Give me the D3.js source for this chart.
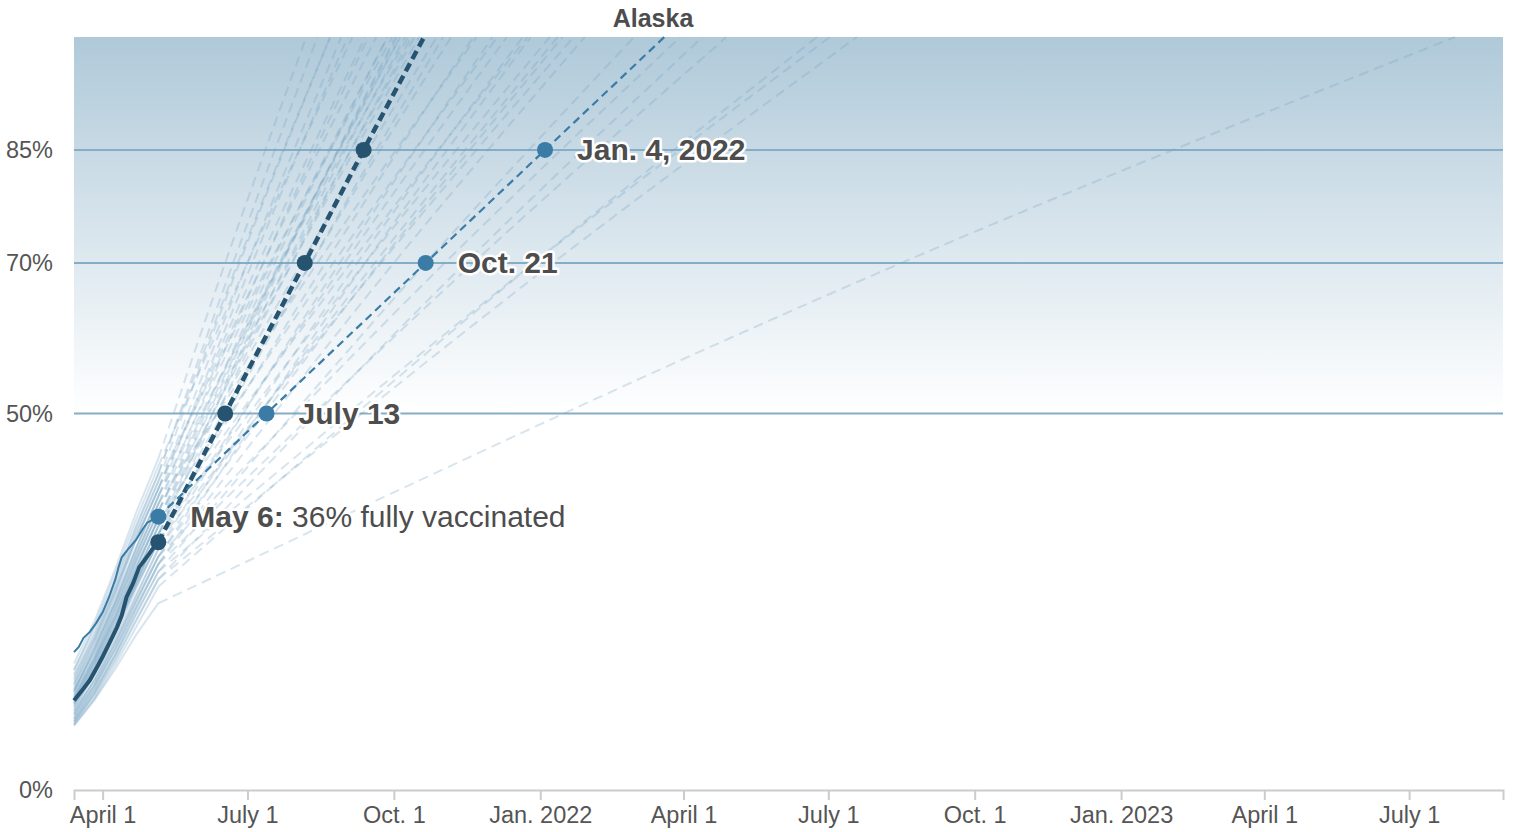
<!DOCTYPE html>
<html>
<head>
<meta charset="utf-8">
<script src="https://cdn.jsdelivr.net/npm/d3@7"></script>
<style>
  body { margin: 0; background: #fff; }
  svg text { font-family: "Liberation Sans", Arial, Helvetica, sans-serif; }
</style>
</head>
<body>
<svg id="chart" width="1515" height="832"></svg>
<script>
// Dates of the history samples for the other states
const histDates = ["2021-03-14", "2021-03-27", "2021-04-09", "2021-04-22", "2021-05-06"];

// Share fully vaccinated (%) for each of the other states on histDates
const stateHist = [
  [16.8, 22.5, 29.4, 36.8, 44], [15.9, 21.6, 28.0, 35.1, 42], [14.2, 20.0, 26.5, 33.9, 41],
  [15.1, 20.3, 26.8, 33.4, 40], [13.0, 18.9, 25.1, 32.2, 39], [16.0, 21.9, 28.8, 35.9, 43],
  [12.4, 17.8, 24.2, 31.0, 38], [13.8, 19.5, 26.0, 33.2, 40], [12.8, 17.6, 23.9, 30.3, 37],
  [14.8, 20.6, 27.1, 34.3, 41], [11.9, 17.0, 23.0, 29.4, 36], [13.5, 18.8, 24.9, 31.4, 38],
  [11.2, 16.1, 22.0, 28.6, 35], [14.0, 19.2, 25.6, 32.1, 39], [10.6, 15.4, 21.3, 27.5, 34],
  [12.0, 17.2, 23.5, 30.4, 37], [12.6, 17.5, 23.3, 29.8, 36], [10.1, 14.8, 20.4, 26.7, 33],
  [11.7, 16.4, 22.3, 28.5, 35], [11.4, 16.0, 21.5, 27.6, 34], [13.1, 18.4, 24.6, 31.2, 38],
  [9.6, 14.0, 19.6, 25.7, 32], [12.2, 17.3, 23.1, 29.6, 36], [10.9, 15.5, 20.9, 27.0, 33],
  [9.2, 13.6, 18.9, 24.8, 31], [12.3, 16.9, 22.6, 28.7, 35], [8.8, 13.0, 18.1, 23.9, 30],
  [11.0, 15.7, 21.2, 27.4, 34], [10.3, 14.6, 20.0, 25.9, 32], [9.9, 14.1, 19.3, 25.1, 31],
  [11.5, 15.9, 21.3, 27.1, 33], [9.5, 13.5, 18.6, 24.2, 30], [9.0, 12.9, 17.8, 23.3, 29],
  [10.5, 14.5, 19.6, 25.2, 31], [8.7, 12.4, 17.1, 22.4, 28], [10.0, 13.9, 18.8, 24.3, 30],
  [8.6, 12.1, 16.6, 21.6, 27], [9.4, 13.2, 18.0, 23.4, 29], [9.1, 12.7, 17.4, 22.6, 28],
  [8.5, 12.0, 16.1, 20.6, 24.8], [15.4, 21.0, 27.6, 34.8, 42], [13.3, 18.6, 25.0, 31.9, 39],
  [13.2, 18.1, 24.2, 30.6, 37], [11.5, 16.6, 22.7, 29.2, 36], [12.0, 16.4, 21.9, 27.8, 34],
  [14.5, 19.9, 26.3, 33.3, 40]
];

// Projected days after May 6 to reach 70% and 100% for the same states
const stateDays70 = [42, 47, 51, 56, 59, 56, 66, 66, 73, 70, 77, 76, 81, 77, 84, 82, 90, 96, 96, 105,
  100, 114, 110, 117, 125, 121, 130, 130, 136, 139, 140, 148, 168, 180, 193, 198, 236, 236, 248, 467,
  50, 71, 77, 84, 78, 63];
const stateDays100 = [93, 100, 108, 115, 119, 122, 132, 137, 144, 147, 150, 152, 155, 157, 159, 161, 175, 179, 184, 198,
  200, 210, 213, 219, 229, 232, 234, 246, 251, 254, 261, 268, 299, 328, 342, 357, 414, 422, 439, 815,
  108, 144, 152, 164, 149, 130];

// U.S. history and projection
const usHistDates = ["2021-03-14", "2021-03-19", "2021-03-24", "2021-03-29", "2021-04-01", "2021-04-05", "2021-04-10",
  "2021-04-13", "2021-04-16", "2021-04-20", "2021-04-24", "2021-04-29", "2021-05-02", "2021-05-06"];
const usHistValues = [11.9, 13.2, 14.6, 16.5, 17.7, 19.4, 21.6, 23.2, 25.6, 27.4, 29.6, 31.0, 31.9, 32.9];
const usProjDates = ["2021-05-06", "2021-06-17", "2021-08-06", "2021-09-12", "2021-10-20"];
const usProjValues = [32.9, 50, 70, 85, 100];

// Alaska history and projection
const akHistDates = ["2021-03-14", "2021-03-17", "2021-03-20", "2021-03-24", "2021-03-28", "2021-04-01", "2021-04-05",
  "2021-04-09", "2021-04-11", "2021-04-13", "2021-04-17", "2021-04-22", "2021-04-26", "2021-04-29", "2021-05-06"];
const akHistValues = [18.3, 19.0, 20.2, 21.0, 22.2, 23.6, 25.6, 28.0, 29.6, 30.9, 32.0, 33.2, 34.6, 35.5, 36.3];
const akProjDates = ["2021-05-06", "2021-07-13", "2021-10-21", "2022-01-04", "2022-03-20"];
const akProjValues = [36.3, 50, 70, 85, 100];
const akLabels = ["", "July 13", "Oct. 21", "Jan. 4, 2022"];

// Axis
const xTicks = ["2021-04-01", "2021-07-01", "2021-10-01", "2022-01-01", "2022-04-01", "2022-07-01",
  "2022-10-01", "2023-01-01", "2023-04-01", "2023-07-01"];
const yTicks = [0, 50, 70, 85];
const refLines = [50, 70, 85];

const parse = d3.utcParse("%Y-%m-%d");
const may6 = parse("2021-05-06");

const svg = d3.select("#chart");

const x = d3.scaleUtc()
  .domain([parse("2021-03-14"), parse("2023-08-29")])
  .range([74, 1503]);
const y = d3.scaleLinear().domain([0, 100]).range([790, 37]);

// Background gradient
const defs = svg.append("defs");
const grad = defs.append("linearGradient")
  .attr("id", "bg")
  .attr("gradientUnits", "userSpaceOnUse")
  .attr("x1", 0).attr("x2", 0)
  .attr("y1", y(100)).attr("y2", y(50));
grad.append("stop").attr("offset", 0).attr("stop-color", "#afc9d9");
grad.append("stop").attr("offset", 1).attr("stop-color", "#ffffff");

svg.append("rect")
  .attr("x", x.range()[0]).attr("y", y(100))
  .attr("width", x.range()[1] - x.range()[0])
  .attr("height", y(0) - y(100))
  .attr("fill", "url(#bg)");

// Reference lines
svg.append("g").selectAll("line")
  .data(refLines)
  .join("line")
  .attr("x1", x.range()[0]).attr("x2", x.range()[1])
  .attr("y1", d => y(d)).attr("y2", d => y(d))
  .attr("stroke", "#86adc6")
  .attr("stroke-width", 2);

const line = d3.line().x(d => x(d[0])).y(d => y(d[1]));
const curve = d3.line().x(d => x(d[0])).y(d => y(d[1])).curve(d3.curveMonotoneX);

// Other states: history
const faint = svg.append("g")
  .attr("fill", "none")
  .attr("stroke", "#6e9fc0")
  .attr("stroke-opacity", 0.27)
  .attr("stroke-width", 2);

faint.selectAll("path.hist")
  .data(stateHist)
  .join("path")
  .attr("class", "hist")
  .attr("d", vals => line(vals.map((v, i) => [parse(histDates[i]), v])));

// Other states: projections
faint.selectAll("path.proj")
  .data(stateHist.map((vals, i) => [
    [may6, vals[vals.length - 1]],
    [d3.utcDay.offset(may6, stateDays70[i]), 70],
    [d3.utcDay.offset(may6, stateDays100[i]), 100]
  ]))
  .join("path")
  .attr("class", "proj")
  .attr("stroke-dasharray", "10,6")
  .attr("d", curve);

// U.S.
const usHist = usHistDates.map((d, i) => [parse(d), usHistValues[i]]);
const usProj = usProjDates.map((d, i) => [parse(d), usProjValues[i]]);
svg.append("path")
  .attr("d", line(usHist))
  .attr("fill", "none")
  .attr("stroke", "#255370")
  .attr("stroke-width", 4);
svg.append("path")
  .attr("d", line(usProj))
  .attr("fill", "none")
  .attr("stroke", "#255370")
  .attr("stroke-width", 4.5)
  .attr("stroke-dasharray", "9,5");

// Alaska
const akHist = akHistDates.map((d, i) => [parse(d), akHistValues[i]]);
const akProj = akProjDates.map((d, i) => [parse(d), akProjValues[i]]);
svg.append("path")
  .attr("d", line(akHist))
  .attr("fill", "none")
  .attr("stroke", "#3a7ca6")
  .attr("stroke-width", 2);
svg.append("path")
  .attr("d", line(akProj))
  .attr("fill", "none")
  .attr("stroke", "#3a7ca6")
  .attr("stroke-width", 2.2)
  .attr("stroke-dasharray", "8,5");

// Dots (milestones, not the 100% end)
svg.append("g").selectAll("circle")
  .data(usProj.slice(0, 4))
  .join("circle")
  .attr("cx", d => x(d[0])).attr("cy", d => y(d[1]))
  .attr("r", 8)
  .attr("fill", "#255370");
svg.append("g").selectAll("circle")
  .data(akProj.slice(0, 4))
  .join("circle")
  .attr("cx", d => x(d[0])).attr("cy", d => y(d[1]))
  .attr("r", 8)
  .attr("fill", "#3a7ca6");

// Labels
const labels = svg.append("g")
  .attr("font-size", 30)
  .attr("fill", "#4d4d4d")
  .attr("stroke", "#fff")
  .attr("stroke-width", 5)
  .attr("stroke-linejoin", "round")
  .attr("paint-order", "stroke");

labels.selectAll("text.ms")
  .data(akProj.slice(1, 4).map((d, i) => ({ p: d, t: akLabels[i + 1] })))
  .join("text")
  .attr("class", "ms")
  .attr("x", d => x(d.p[0]) + 32)
  .attr("y", d => y(d.p[1]))
  .attr("dy", "0.35em")
  .attr("font-weight", "bold")
  .text(d => d.t);

const first = labels.append("text")
  .attr("x", x(akProj[0][0]) + 32)
  .attr("y", y(akProj[0][1]))
  .attr("dy", "0.35em");
first.append("tspan").attr("font-weight", "bold").text("May 6:");
first.append("tspan").text(" " + Math.round(akProj[0][1]) + "% fully vaccinated");

// Title
svg.append("text")
  .attr("x", 653).attr("y", 27)
  .attr("text-anchor", "middle")
  .attr("font-size", 25)
  .attr("font-weight", "bold")
  .attr("fill", "#4d4d4d")
  .text("Alaska");

// X axis
const fmt = d => {
  const m = d.getUTCMonth();
  if (m === 0) return "Jan. " + d.getUTCFullYear();
  if (m === 3) return "April 1";
  if (m === 6) return "July 1";
  return "Oct. 1";
};
const xAxis = svg.append("g")
  .attr("transform", `translate(0,${y(0)})`)
  .call(d3.axisBottom(x).tickValues(xTicks.map(parse)).tickFormat(fmt).tickSize(10).tickSizeOuter(10));
xAxis.select(".domain").attr("stroke", "#ccc").attr("stroke-width", 2);
xAxis.selectAll(".tick line").attr("stroke", "#ccc").attr("stroke-width", 2);
xAxis.selectAll(".tick text")
  .attr("y", 16)
  .attr("fill", "#555")
  .attr("font-size", 23.5)
  .attr("font-family", null);

// Y labels
svg.append("g").selectAll("text")
  .data(yTicks)
  .join("text")
  .attr("x", 53)
  .attr("y", d => y(d))
  .attr("dy", "0.36em")
  .attr("text-anchor", "end")
  .attr("font-size", 23.5)
  .attr("fill", "#555")
  .text(d => d + "%");
</script>
</body>
</html>
